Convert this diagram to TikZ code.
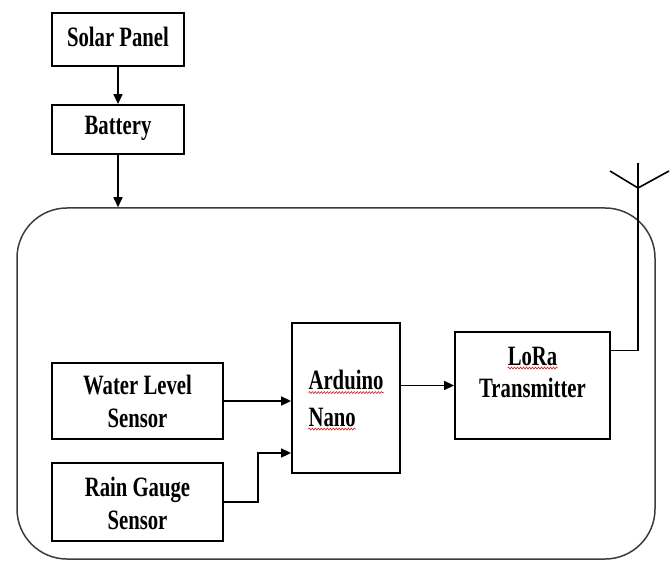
\documentclass[tikz,border=0pt]{standalone}
\usepackage{fontspec}
\usetikzlibrary{arrows.meta,positioning,calc,decorations.pathmorphing}
\newfontfamily\boxfont[FakeStretch=0.74]{Liberation Serif}
\definecolor{framecol}{RGB}{60,60,60}
\definecolor{spellcol}{RGB}{220,30,30}

\begin{document}
\begin{tikzpicture}[x=1pt,y=-1pt,
  blk/.style={draw,line width=1.8pt,inner sep=0pt},
  lbl/.style={font=\boxfont\bfseries\fontsize{28}{33}\selectfont,align=center,inner sep=0pt},
  arr/.style={line width=1.6pt,-{Triangle[length=10pt,width=9pt]}},
  spell/.style={spellcol,line width=0.6pt,decorate,decoration={snake,amplitude=1pt,segment length=3pt}}]
  \useasboundingbox (0,0) rectangle (672,561);
  % power chain
  \node[blk,minimum width=132,minimum height=53] (solar) at (118,39.5) {};
  \node[lbl] (solarlbl) at (118,37) {Solar Panel};
  \node[blk,minimum width=132,minimum height=49] (battery) at (118,129.5) {};
  \node[lbl] (batterylbl) at (118,128) {Battery};
  % enclosure
  \node[draw=framecol,line width=1.5pt,rounded corners=50pt,minimum width=638,minimum height=351,inner sep=0pt] (encl) at (336,383.5) {};
  \draw[arr] (solar) -- (battery);
  \draw[arr] (battery) -- (battery |- encl.north);
  % sensors
  \node[blk,minimum width=171,minimum height=76] (water) at (137.5,401) {};
  \node[lbl] (waterlbl) at (137.5,401) {Water Level\\Sensor};
  \node[blk,minimum width=171,minimum height=78] (rain) at (137.5,502) {};
  \node[lbl] (rainlbl) at (137.5,503) {Rain Gauge\\Sensor};
  % controller and radio
  \node[blk,minimum width=108,minimum height=150] (arduino) at (346,398) {};
  \node[lbl] (ardA) at (346,380) {Arduino};
  \node[lbl,anchor=west] (ardB) at (ardA.west |- 0,417) {Nano};
  \node[blk,minimum width=155,minimum height=107] (lora) at (532.5,385.5) {};
  \node[lbl] (loraA) at (532.5,356) {LoRa};
  \node[lbl] (loraB) at (532.5,388) {Transmitter};
  \draw[spell] ([yshift=-3pt]ardA.base west) -- ([yshift=-3pt]ardA.base east);
  \draw[spell] ([yshift=-3pt]ardB.base west) -- ([yshift=-3pt]ardB.base east);
  \draw[spell] ([yshift=-3pt]loraA.base west) -- ([yshift=-3pt]loraA.base east);
  % signal paths
  \draw[arr] (water) -- (water -| arduino.west);
  \draw[arr] (rain.east) -- ++(34,0) |- ([yshift=-55pt]arduino.west);
  \draw[arr] (arduino.east |- lora) -- (lora.west);
  % antenna
  \coordinate (mast) at (638,163);
  \coordinate (feed) at (638,188);
  \coordinate (armL) at (610,171);
  \coordinate (armR) at (669,171);
  \draw[line width=1.6pt] ([yshift=35pt]lora.east) -| (mast);
  \draw[line width=1.6pt] (armL) -- (feed) -- (armR);
\end{tikzpicture}
\end{document}
